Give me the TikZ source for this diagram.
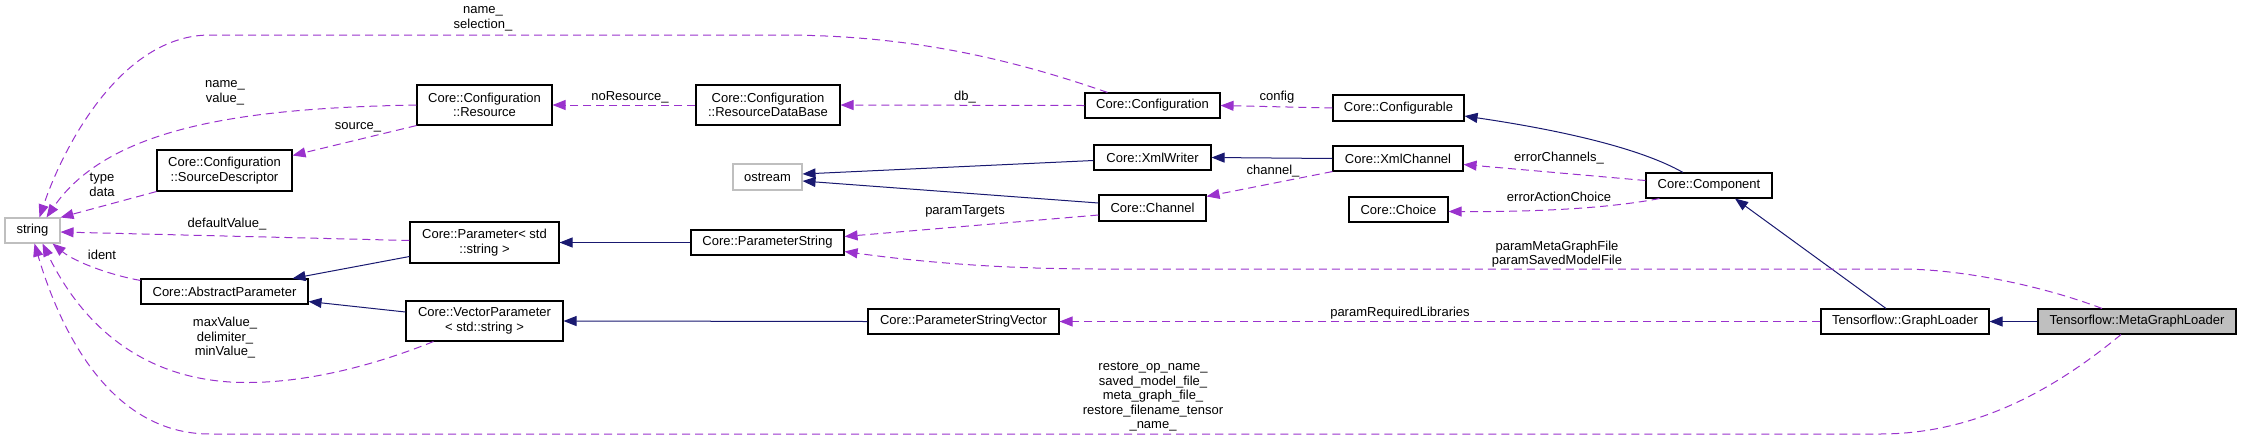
\documentclass[tikz,border=0pt]{standalone}
\usepackage{fontspec}
\setmainfont{Liberation Sans}
\usepackage{tikz}
\usetikzlibrary{arrows.meta, positioning, calc}
\definecolor{Dox_Navy}{HTML}{191970}
\definecolor{Dox_Purple}{HTML}{9A32CD}
\definecolor{Dox_Gray}{HTML}{BFBFBF}
\newcommand{\dfont}{\fontsize{13}{14.5}\selectfont}
\tikzset{
  cls/.style 2 args={draw=black, line width=1.1pt, fill=white, align=center, inner sep=1pt, font=\dfont, minimum width=#1pt, minimum height=#2pt},
  inherit/.style={draw=Dox_Navy, line width=1pt, -{Triangle[length=13pt,width=10pt]}},
  usage/.style={draw=Dox_Purple, line width=1pt, dash pattern=on 8pt off 5pt, -{Triangle[length=13pt,width=10pt]}},
  elabel/.style={font=\dfont, align=center, inner sep=0pt}
}

\begin{document}
\begin{tikzpicture}[x=1pt, y=-1pt]
\useasboundingbox (0,0) rectangle (2241,440);
% Classes
\node[cls={55}{25}, draw=Dox_Gray] (str) at (32.5,230.5) {string};
\node[cls={135}{41}] (srcdesc) at (224.5,170.5) {Core::Configuration\\::SourceDescriptor};
\node[cls={167}{25}] (absparam) at (224.5,291.5) {Core::AbstractParameter};
\node[cls={135}{40}] (resource) at (484.5,105) {Core::Configuration\\::Resource};
\node[cls={149}{41}] (param) at (484.5,242.5) {Core::Parameter< std\\::string >};
\node[cls={157}{40}] (vecparam) at (484.5,321) {Core::VectorParameter\\< std::string >};
\node[cls={144}{40}] (resdb) at (768,105) {Core::Configuration\\::ResourceDataBase};
\node[cls={69}{26}, draw=Dox_Gray] (ostream) at (767.5,177) {ostream};
\node[cls={153}{25}] (pstring) at (767.5,242.5) {Core::ParameterString};
\node[cls={191}{25}] (pstrvec) at (963.5,321.5) {Core::ParameterStringVector};
\node[cls={135}{25}] (config) at (1152.5,105.5) {Core::Configuration};
\node[cls={117}{25}] (xmlwriter) at (1152.5,157.5) {Core::XmlWriter};
\node[cls={107}{26}] (channel) at (1152.5,208) {Core::Channel};
\node[cls={131}{26}] (configurable) at (1398.5,108) {Core::Configurable};
\node[cls={130}{25}] (xmlchannel) at (1398,158.5) {Core::XmlChannel};
\node[cls={99}{25}] (choice) at (1398.5,209.5) {Core::Choice};
\node[cls={126}{25}] (component) at (1709,185.5) {Core::Component};
\node[cls={168}{25}] (graphloader) at (1905,321.5) {Tensorflow::GraphLoader};
\node[cls={198}{25}, fill=Dox_Gray] (metaloader) at (2137,321.5) {Tensorflow::MetaGraphLoader};
% Inheritance
\draw[inherit] ($(param.west)+(0,14)$) -- ($(absparam.north east)+(-16,0)$);
\draw[inherit] ($(vecparam.west)+(0,-9)$) -- ($(absparam.east)+(0,10)$);
\draw[inherit] (pstring.west) -- (param.east);
\draw[inherit] (pstrvec.west) -- (vecparam.east);
\draw[inherit] ($(xmlwriter.west)+(0,3)$) -- ($(ostream.east)+(0,-3)$);
\draw[inherit] ($(channel.west)+(0,-5)$) -- ($(ostream.east)+(0,4)$);
\draw[inherit] (xmlchannel.west) -- (xmlwriter.east);
\draw[inherit] ($(component.north)+(-26,0)$) .. controls (1640,148) and (1560,130) .. ($(configurable.east)+(0,8)$);
\draw[inherit] ($(graphloader.north)+(-19,0)$) -- ($(component.south)+(26,0)$);
\draw[inherit] (metaloader.west) -- (graphloader.east);
% Usage
\draw[usage] ($(config.north)+(-45,0)$) .. controls (1000,55) and (900,35) .. (780,35) -- (210,35) .. controls (120,35) and (62,150) .. ($(str.north)+(7,0)$);
\draw[usage] (resource.west) .. controls (250,108) and (110,125) .. ($(str.north)+(14,0)$);
\draw[usage] (resource.south west) -- ($(srcdesc.east)+(0,-15)$);
\draw[usage] (srcdesc.south west) -- (str.north east);
\draw[usage] ($(param.west)+(0,-2)$) -- ($(str.east)+(0,1.5)$);
\draw[usage] ($(absparam.north west)+(0,2)$) .. controls (110,275) and (75,262) .. ($(str.south east)+(-8,0)$);
\draw[usage] ($(vecparam.south)+(-51,0)$) .. controls (350,375) and (280,385) .. (230,382) .. controls (120,375) and (70,300) .. ($(str.south)+(10,0)$);
\draw[usage] (resdb.west) -- (resource.east);
\draw[usage] (config.west) -- (resdb.east);
\draw[usage] (configurable.west) -- (config.east);
\draw[usage] (xmlchannel.south west) -- ($(channel.north east)+(0,2)$);
\draw[usage] ($(channel.west)+(0,7)$) -- ($(pstring.east)+(0,-6)$);
\draw[usage] ($(component.west)+(0,-5)$) -- ($(xmlchannel.east)+(0,6)$);
\draw[usage] ($(component.south west)+(14,0)$) .. controls (1610,208) and (1540,212) .. ($(choice.east)+(0,2)$);
\draw[usage] ($(metaloader.north)+(-35,0)$) .. controls (2040,285) and (1960,269) .. (1900,269) -- (1100,269) .. controls (1000,269) and (920,262) .. ($(pstring.east)+(0,9)$);
\draw[usage] (graphloader.west) -- (pstrvec.east);
\draw[usage] ($(metaloader.south)+(-16,0)$) .. controls (2060,385) and (1980,434) .. (1880,434) -- (210,434) .. controls (110,434) and (60,330) .. ($(str.south)+(2,0)$);
% Edge labels
\node[elabel] (lbNameSel) at (483,19) {name\_\\selection\_};
\node[elabel] (lbNameVal) at (225,93) {name\_\\value\_};
\node[elabel] (lbSource) at (358,127) {source\_};
\node[elabel] (lbTypeData) at (102,185) {type\\data};
\node[elabel] (lbDefault) at (227,224) {defaultValue\_};
\node[elabel] (lbIdent) at (102,255) {ident};
\node[elabel] (lbMaxVal) at (225,338) {maxValue\_\\delimiter\_\\minValue\_};
\node[elabel] (lbNoRes) at (630,97) {noResource\_};
\node[elabel] (lbDb) at (965,97) {db\_};
\node[elabel] (lbConfig) at (1277,97) {config};
\node[elabel] (lbChannel) at (1273,171) {channel\_};
\node[elabel] (lbTargets) at (965,211) {paramTargets};
\node[elabel] (lbErrCh) at (1559,158) {errorChannels\_};
\node[elabel] (lbErrAct) at (1559,197) {errorActionChoice};
\node[elabel] (lbMetaFile) at (1557,254) {paramMetaGraphFile\\paramSavedModelFile};
\node[elabel] (lbReqLib) at (1400,313) {paramRequiredLibraries};
\node[elabel] (lbRestore) at (1153,397) {restore\_op\_name\_\\saved\_model\_file\_\\meta\_graph\_file\_\\restore\_filename\_tensor\\\_name\_};
\end{tikzpicture}
\end{document}
